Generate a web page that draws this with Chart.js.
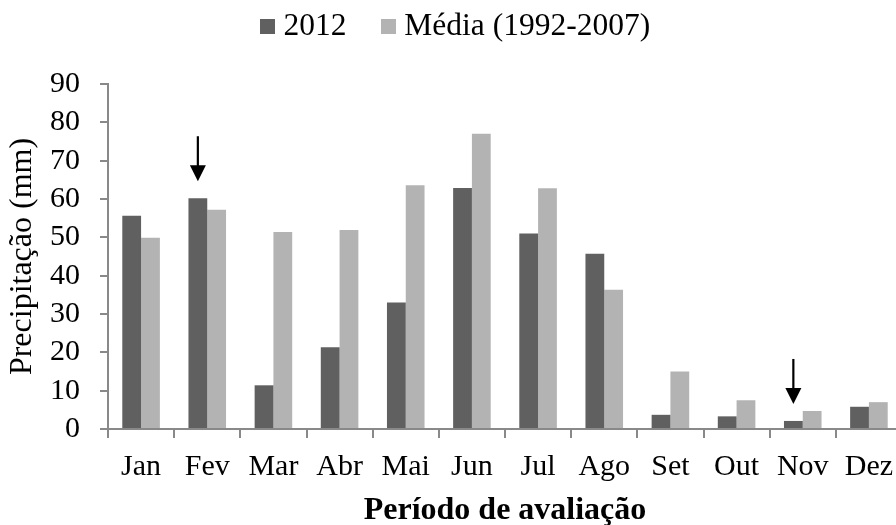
<!DOCTYPE html>
<html><head><meta charset="utf-8">
<script src="https://cdn.jsdelivr.net/npm/chart.js@4/dist/chart.umd.min.js"></script>
<style>
html,body{margin:0;padding:0;overflow:hidden;background:#fff;width:896px;height:525px}
#wrap{position:absolute;left:0;top:0;width:915px;height:525px}
canvas{display:block}
</style>
</head><body><div id="wrap"><canvas id="c" width="915" height="525"></canvas></div>
<script>
const months = ['Jan','Fev','Mar','Abr','Mai','Jun','Jul','Ago','Set','Out','Nov','Dez'];
const series2012 = [55.6, 60.2, 11.4, 21.3, 33.0, 62.9, 51.0, 45.7, 3.7, 3.3, 2.1, 5.8];
const seriesMedia = [49.9, 57.2, 51.4, 51.9, 63.6, 77.0, 62.8, 36.3, 15.0, 7.5, 4.7, 7.0];
const seriesLabels = ['2012', 'Média (1992-2007)'];
const yTickValues = [0, 10, 20, 30, 40, 50, 60, 70, 80, 90];
const arrowMonths = ['Fev', 'Nov'];

const FONT = "'Liberation Serif', 'Times New Roman', serif";
const AXIS_GRAY = '#898989';
const COLORS = ['#606060', '#b3b3b3'];

function swatch(color) {
  const c = document.createElement('canvas');
  c.width = 15; c.height = 15;
  const g = c.getContext('2d');
  g.fillStyle = color;
  g.fillRect(0, 0, 15, 15);
  return c;
}
const swatches = COLORS.map(swatch);

const layoutFix = {
  id: 'layoutFix',
  beforeLayout(chart) {
    const lg = chart.legend;
    if (lg && !lg._patched) {
      const origFit = lg.fit;
      lg.fit = function () { origFit.call(this); this.height = 84; };
      const origDraw = lg.draw;
      lg.draw = function () {
        const t = this.top, l = this.left, r = this.right;
        this.top = t - 31;
        this.left = l + 8;
        this.right = r + 8;
        origDraw.call(this);
        this.top = t; this.left = l; this.right = r;
      };
      lg._patched = true;
    }
  }
};

const arrows = {
  id: 'arrows',
  afterDatasetsDraw(chart) {
    const ctx = chart.ctx;
    const meta = chart.getDatasetMeta(0);
    ctx.save();
    ctx.strokeStyle = '#000';
    ctx.fillStyle = '#000';
    ctx.lineWidth = 2.2;
    arrowMonths.forEach(m => {
      const i = months.indexOf(m);
      const bar = meta.data[i];
      const x = bar.x;
      const tip = bar.y - 17;
      const top = tip - 45;
      const headH = 16, headW = 16;
      ctx.beginPath();
      ctx.moveTo(x, top);
      ctx.lineTo(x, tip - headH + 2);
      ctx.stroke();
      ctx.beginPath();
      ctx.moveTo(x - headW / 2, tip - headH);
      ctx.lineTo(x + headW / 2, tip - headH);
      ctx.lineTo(x, tip);
      ctx.closePath();
      ctx.fill();
    });
    ctx.restore();
  }
};

new Chart(document.getElementById('c'), {
  type: 'bar',
  data: {
    labels: months,
    datasets: [
      { label: seriesLabels[0], data: series2012, backgroundColor: COLORS[0], borderWidth: 0 },
      { label: seriesLabels[1], data: seriesMedia, backgroundColor: COLORS[1], borderWidth: 0 }
    ]
  },
  options: {
    responsive: false,
    animation: false,
    devicePixelRatio: 1,
    layout: { padding: { left: 0, right: 13, top: 0, bottom: 0 } },
    datasets: { bar: { categoryPercentage: 0.568, barPercentage: 1.0 } },
    plugins: {
      tooltip: { enabled: false },
      legend: {
        position: 'top',
        align: 'center',
        labels: {
          usePointStyle: true,
          pointStyleWidth: 0.01,
          boxHeight: 15,
          padding: 42,
          color: '#000',
          font: { family: FONT, size: 31.5 },
          generateLabels(chart) {
            const items = Chart.defaults.plugins.legend.labels.generateLabels(chart);
            items.forEach((it, i) => { it.pointStyle = swatches[i]; });
            return items;
          }
        }
      }
    },
    scales: {
      x: {
        grid: { display: true, drawOnChartArea: false, drawTicks: true, tickLength: 9, color: AXIS_GRAY, lineWidth: 2, offset: true },
        border: { display: true, color: AXIS_GRAY, width: 2 },
        ticks: { color: '#000', font: { family: FONT, size: 30 }, padding: 11, maxRotation: 0, autoSkip: false },
        title: { display: true, text: 'Período de avaliação', color: '#000', font: { family: FONT, size: 32, weight: 'bold', lineHeight: 0.9 }, padding: { top: 0, bottom: 0 } },
        afterFit(scale) { scale.height = 96; }
      },
      y: {
        min: 0, max: 90,
        grid: { display: true, drawOnChartArea: false, drawTicks: true, tickLength: 8, color: AXIS_GRAY, lineWidth: 2 },
        border: { display: true, color: AXIS_GRAY, width: 2 },
        afterBuildTicks(scale) { scale.ticks = yTickValues.map(v => ({ value: v })); },
        ticks: { color: '#000', font: { family: FONT, size: 30 }, padding: 20, autoSkip: false },
        title: { display: true, text: 'Precipitação (mm)', color: '#000', font: { family: FONT, size: 32, lineHeight: 1 }, padding: { top: 7, bottom: 0 } },
        afterFit(scale) { scale.width = 108; }
      }
    }
  },
  plugins: [layoutFix, arrows]
});
</script>
</body></html>
